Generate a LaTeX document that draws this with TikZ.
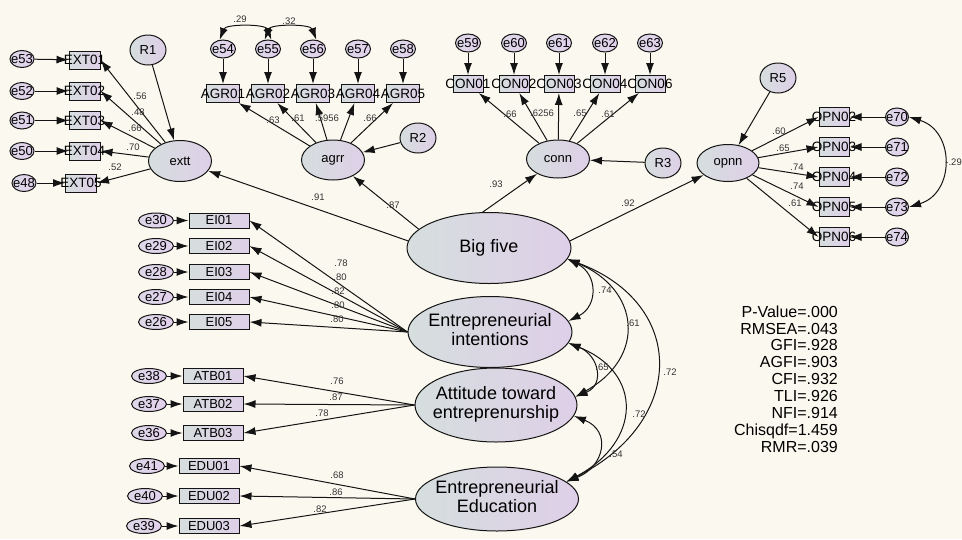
\documentclass[tikz,border=0pt]{standalone}
\usepackage{fontspec}
\setmainfont{Liberation Sans}
\usetikzlibrary{shapes.geometric,arrows.meta,calc}
\definecolor{bg}{RGB}{251,249,239}
\definecolor{gA}{RGB}{214,222,222}
\definecolor{gB}{RGB}{222,207,232}
\definecolor{eA}{RGB}{220,216,232}
\definecolor{eB}{RGB}{226,208,236}
\definecolor{lblc}{RGB}{50,50,50}
\definecolor{ln}{RGB}{20,20,20}
\newcommand{\ovl}[1]{\makebox[0pt]{#1}}
\newcommand{\twol}[2]{\makebox[0pt]{\begin{tabular}{@{}c@{}}#1\\#2\end{tabular}}}
\tikzset{
  every node/.style={inner sep=0pt},
  lat/.style={ellipse, draw=ln, line width=1pt, left color=gA, right color=gB, font=\fontsize{13}{13}\selectfont},
  biglat/.style={lat, font=\fontsize{18}{18.5}\selectfont},
  obs/.style={rectangle, draw=ln, line width=1pt, left color=gA, right color=gB, minimum width=31pt, minimum height=18pt, font=\fontsize{13.5}{14}\selectfont},
  obsw/.style={obs, minimum width=60pt, minimum height=15pt, font=\fontsize{13}{13}\selectfont},
  err/.style={ellipse, draw=ln, line width=1pt, left color=eA, right color=eB, minimum width=24pt, minimum height=17pt, font=\fontsize{13}{13}\selectfont},
  errw/.style={err, minimum width=35pt, minimum height=15pt},
  res/.style={lat, minimum width=36pt, minimum height=30pt},
  lbl/.style={font=\fontsize{9.5}{10}\selectfont, text=lblc},
  arr/.style={draw=ln, line width=1pt, -{Latex[length=12pt,width=8pt]}},
  cov/.style={draw=ln, line width=1pt, {Latex[length=12pt,width=8pt]}-{Latex[length=12pt,width=8pt]}},
  fit/.style={font=\fontsize{16}{16.9}\selectfont, align=right}
}
\begin{document}
\begin{tikzpicture}[x=1pt,y=-1pt]
\fill[bg] (0,0) rectangle (962,539);
\useasboundingbox (0,0) rectangle (962,539);

% ---------- Extraversion ----------
\node[err] (e53) at (22,59) {\ovl{e53}};
\node[err] (e52) at (22,91) {\ovl{e52}};
\node[err] (e51) at (22,120.5) {\ovl{e51}};
\node[err] (e50) at (22,151) {\ovl{e50}};
\node[err] (e48) at (24,183) {\ovl{e48}};
\node[obs] (EXT01) at (84.5,60) {\ovl{EXT01}};
\node[obs] (EXT02) at (84.5,91) {\ovl{EXT02}};
\node[obs] (EXT03) at (84.5,120.5) {\ovl{EXT03}};
\node[obs] (EXT04) at (84.5,151) {\ovl{EXT04}};
\node[obs] (EXT05) at (81,183) {\ovl{EXT05}};
\node[res] (R1) at (148,50) {R1};
\node[lat, minimum width=63pt, minimum height=41pt] (extt) at (180,161) {extt};
\foreach \e/\b in {e53/EXT01,e52/EXT02,e51/EXT03,e50/EXT04,e48/EXT05}
  \draw[arr] (\e) -- (\b);
\foreach \b in {EXT01,EXT02,EXT03,EXT04,EXT05}
  \draw[arr] (extt) -- (\b.east);
\draw[arr] (R1) -- (extt);
\node[lbl] at (140,96) {.56};
\node[lbl] at (138,112) {.48};
\node[lbl] at (135,128) {.66};
\node[lbl] at (133,147) {.70};
\node[lbl] at (115,167) {.52};

% ---------- Agreeableness ----------
\foreach \i/\x in {54/223,55/268,56/313,57/358,58/403}
  \node[err, minimum width=25pt, minimum height=18pt] (e\i) at (\x,49) {\ovl{e\i}};
\foreach \i/\x in {1/223,2/268,3/313,4/358,5/403}
  \node[obs, minimum width=33pt] (AGR0\i) at (\x,93.5) {\ovl{AGR0\i}};
\node[lat, minimum width=63pt, minimum height=40pt] (agrr) at (333,160) {agrr};
\node[res] (R2) at (418,138) {R2};
\foreach \i in {1,...,5} {
  \pgfmathtruncatemacro{\j}{53+\i}
  \draw[arr] (e\j) -- (AGR0\i);
  \draw[arr] (agrr) -- (AGR0\i);
}
\draw[arr] (R2) -- (agrr);
\draw[cov] (e54.110) .. controls ($(e54.110)+(6,-16)$) and ($(e55.70)+(-6,-16)$) .. (e55.70);
\draw[cov] (e55.110) .. controls ($(e55.110)+(6,-16)$) and ($(e56.70)+(-6,-16)$) .. (e56.70);
\node[lbl] at (240,19) {.29};
\node[lbl] at (289,21) {.32};
\node[lbl] at (273,120) {.63};
\node[lbl] at (298,118) {.61};
\node[lbl] at (327,118) {.5956};
\node[lbl] at (370,118) {.66};

% ---------- Conscientiousness ----------
\foreach \i/\x in {59/468,60/514,61/559,62/605,63/650}
  \node[err, minimum width=25pt, minimum height=18pt] (e\i) at (\x,43) {\ovl{e\i}};
\foreach \n/\x in {1/468,2/514,3/559,4/605,6/650}
  \node[obs, minimum width=30pt, minimum height=17pt] (CON0\n) at (\x,84) {\ovl{CON0\n}};
\node[lat, minimum width=63pt, minimum height=38pt] (conn) at (558,159) {conn};
\node[res] (R3) at (663,163) {R3};
\foreach \e/\b in {e59/CON01,e60/CON02,e61/CON03,e62/CON04,e63/CON06} {
  \draw[arr] (\e) -- (\b);
  \draw[arr] (conn) -- (\b);
}
\draw[arr] (R3) -- (conn);
\node[lbl] at (510,114) {.66};
\node[lbl] at (542,113) {.6256};
\node[lbl] at (580,113) {.65};
\node[lbl] at (608,114) {.61};

% ---------- Openness ----------
\node[res] (R5) at (778,78) {R5};
\node[lat, minimum width=62pt, minimum height=37pt] (opnn) at (728,163) {opnn};
\foreach \n/\e/\y in {2/70/117,3/71/147,4/72/177,5/73/207,6/74/237} {
  \node[obs, minimum width=30pt, minimum height=19pt] (OPN0\n) at (834,\y) {\ovl{OPN0\n}};
  \node[err, minimum width=23pt, minimum height=18pt] (e\e) at (897,\y) {\ovl{e\e}};
  \draw[arr] (e\e) -- (OPN0\n);
  \draw[arr] (opnn) -- (OPN0\n.west);
}
\draw[arr] (R5) -- (opnn);
\draw[cov] (e70.east) .. controls ($(e70.east)+(46,14)$) and ($(e73.east)+(46,-14)$) .. (e73.east);
\node[lbl, anchor=east] at (962,162) {-.29};
\node[lbl] at (779,131) {.60};
\node[lbl] at (783,148) {.65};
\node[lbl] at (797,167) {.74};
\node[lbl] at (797,186) {.74};
\node[lbl] at (795,203) {.61};

% ---------- Main latents ----------
\node[biglat, minimum width=164pt, minimum height=71pt] (Big) at (489,248) {\ovl{Big five}};
\node[biglat, minimum width=164pt, minimum height=71pt] (EI) at (490,332) {\twol{Entrepreneurial}{intentions}};
\node[biglat, minimum width=162pt, minimum height=74pt] (ATB) at (496,405) {\twol{Attitude toward}{entreprenurship}};
\node[biglat, minimum width=163pt, minimum height=64pt] (EDU) at (497,499) {\twol{Entrepreneurial}{Education}};

\draw[arr] (Big.175) -- (extt);
\draw[arr] (Big.165) -- (agrr);
\draw[arr] (Big.100) -- (conn);
\draw[arr] (Big.5) -- (opnn);
\node[lbl] at (318,197) {.91};
\node[lbl] at (393,205) {.87};
\node[lbl] at (496,184) {.93};
\node[lbl] at (628,203) {.92};

% ---------- EI items ----------
\foreach \e/\n/\y in {30/1/220.5,29/2/246,28/3/272,27/4/297,26/5/322} {
  \node[obsw] (EI0\n) at (219,\y) {EI0\n};
  \node[errw] (e\e) at (156,\y) {e\e};
  \draw[arr] (e\e) -- (EI0\n);
  \draw[arr] (EI.west) -- (EI0\n.east);
}
\node[lbl] at (341,263) {.78};
\node[lbl] at (340,277) {.80};
\node[lbl] at (338,291) {.82};
\node[lbl] at (338,305) {.80};
\node[lbl] at (337,319) {.80};

% ---------- ATB items ----------
\foreach \e/\n/\y in {38/1/376,37/2/404,36/3/433} {
  \node[obsw] (ATB0\n) at (213,\y) {ATB0\n};
  \node[errw] (e\e) at (149,\y) {e\e};
  \draw[arr] (e\e) -- (ATB0\n);
  \draw[arr] (ATB.west) -- (ATB0\n.east);
}
\node[lbl] at (337,381) {.76};
\node[lbl] at (336,397) {.87};
\node[lbl] at (322,413) {.78};

% ---------- EDU items ----------
\foreach \e/\n/\y/\ex in {41/1/466/147,40/2/496/145,39/3/526/144} {
  \node[obsw] (EDU0\n) at (209,\y) {EDU0\n};
  \node[errw] (e\e) at (\ex,\y) {e\e};
  \draw[arr] (e\e) -- (EDU0\n);
  \draw[arr] (EDU.west) -- (EDU0\n.east);
}
\node[lbl] at (337,475) {.68};
\node[lbl] at (336,492) {.86};
\node[lbl] at (320,509) {.82};

% ---------- Correlations ----------
\coordinate (bS) at (Big.-8);
\coordinate (eiE) at (EI.8);
\coordinate (eiS) at (EI.-8);
\coordinate (atE) at (ATB.6);
\coordinate (atS) at (ATB.-8);
\coordinate (edE) at (EDU.14);
\draw[cov] (bS) .. controls ($(bS)+(30,15)$) and ($(eiE)+(30,-15)$) .. (eiE);
\draw[cov] (bS) .. controls ($(bS)+(72,30)$) and ($(atE)+(72,-40)$) .. (atE);
\draw[cov] (bS) .. controls ($(bS)+(120,45)$) and ($(edE)+(120,-60)$) .. (edE);
\draw[cov] (eiS) .. controls ($(eiS)+(30,12)$) and ($(atE)+(30,-12)$) .. (atE);
\draw[cov] (eiS) .. controls ($(eiS)+(75,30)$) and ($(edE)+(75,-40)$) .. (edE);
\draw[cov] (atS) .. controls ($(atS)+(38,15)$) and ($(edE)+(38,-15)$) .. (edE);
\node[lbl] at (605,290) {.74};
\node[lbl] at (633,323) {.61};
\node[lbl] at (670,372) {.72};
\node[lbl] at (602,367) {.65};
\node[lbl] at (639,414) {.72};
\node[lbl] at (616,454) {.54};

% ---------- Fit indices ----------
\node[fit, anchor=east] (fitidx) at (838,379) {P-Value=.000\\RMSEA=.043\\GFI=.928\\AGFI=.903\\CFI=.932\\TLI=.926\\NFI=.914\\Chisqdf=1.459\\RMR=.039};
\end{tikzpicture}
\end{document}
